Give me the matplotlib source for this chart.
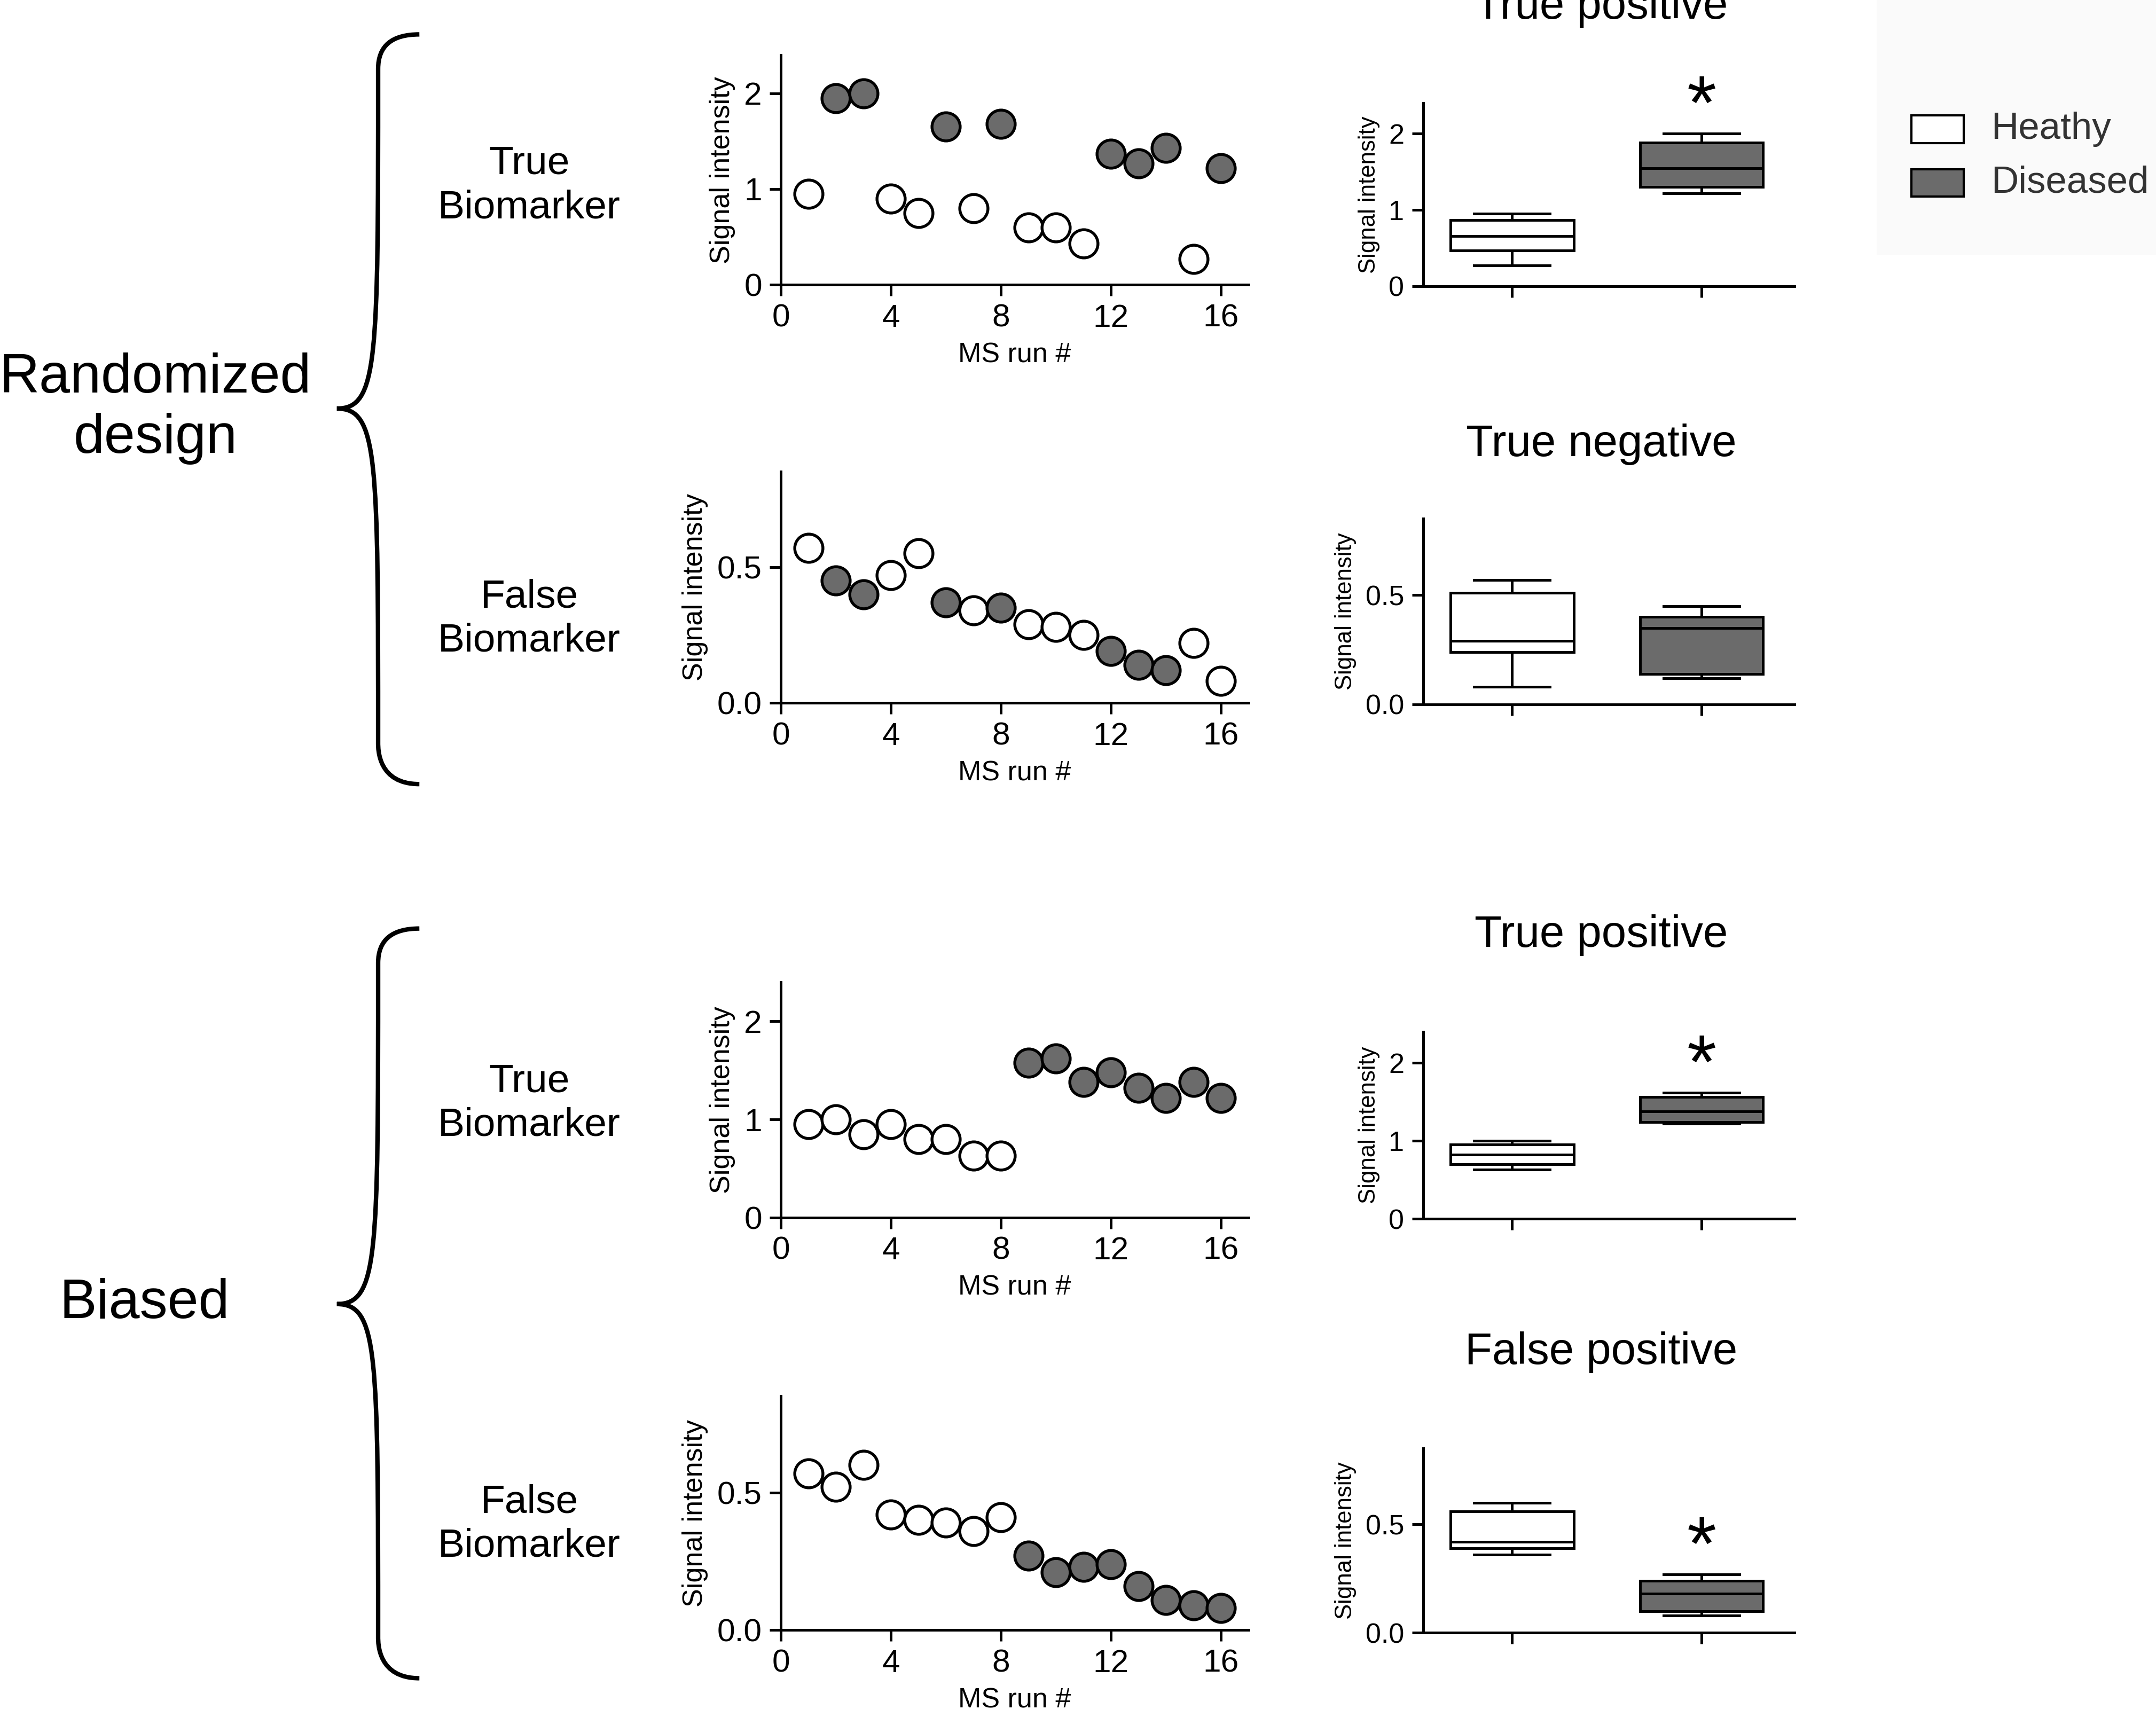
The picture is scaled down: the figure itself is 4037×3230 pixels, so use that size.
import numpy as np
import matplotlib; matplotlib.use('Agg'); import matplotlib.pyplot as plt
from matplotlib.path import Path
from matplotlib.patches import PathPatch, Rectangle

plt.rcParams['font.family'] = ['Liberation Sans', 'DejaVu Sans']
W, H = 1568., 1254.
GR = '#6b6b6b'

# scatter data: (healthy runs, healthy vals, diseased runs, diseased vals)
s1_hx = [1, 4, 5, 7, 9, 10, 11, 15]; s1_hy = [0.95, 0.9, 0.75, 0.8, 0.6, 0.6, 0.43, 0.27]
s1_dx = [2, 3, 6, 8, 12, 13, 14, 16]; s1_dy = [1.95, 2.0, 1.65, 1.68, 1.37, 1.27, 1.43, 1.22]
s2_hx = [1, 4, 5, 7, 9, 10, 11, 15, 16]; s2_hy = [0.57, 0.47, 0.55, 0.34, 0.29, 0.28, 0.25, 0.22, 0.08]
s2_dx = [2, 3, 6, 8, 12, 13, 14]; s2_dy = [0.45, 0.40, 0.37, 0.35, 0.19, 0.14, 0.12]
s3_hx = [1, 2, 3, 4, 5, 6, 7, 8]; s3_hy = [0.95, 1.0, 0.85, 0.95, 0.8, 0.8, 0.63, 0.63]
s3_dx = [9, 10, 11, 12, 13, 14, 15, 16]; s3_dy = [1.58, 1.62, 1.38, 1.48, 1.32, 1.22, 1.38, 1.22]
s4_hx = [1, 2, 3, 4, 5, 6, 7, 8]; s4_hy = [0.57, 0.52, 0.6, 0.42, 0.4, 0.39, 0.36, 0.41]
s4_dx = [9, 10, 11, 12, 13, 14, 15, 16]; s4_dy = [0.27, 0.21, 0.23, 0.24, 0.16, 0.11, 0.09, 0.08]

# box stats: whislo, q1, med, q3, whishi
b1 = [[0.27, 0.47, 0.66, 0.87, 0.95], [1.22, 1.30, 1.55, 1.88, 2.0]]
b2 = [[0.08, 0.24, 0.29, 0.51, 0.57], [0.12, 0.14, 0.35, 0.40, 0.45]]
b3 = [[0.63, 0.70, 0.82, 0.95, 1.0], [1.22, 1.24, 1.38, 1.56, 1.62]]
b4 = [[0.36, 0.39, 0.42, 0.56, 0.60], [0.08, 0.10, 0.18, 0.24, 0.27]]
box_titles = ['True positive', 'True negative', 'True positive', 'False positive']
box_star = [True, False, True, True]

fig = plt.figure(figsize=(4037/300, 3230/300), dpi=300)
def ax_at(x0, y0, x1, y1): return fig.add_axes([x0/W, 1-y1/H, (x1-x0)/W, (y1-y0)/H])
def style(ax, ls=14.5):
    for s in ['top', 'right']: ax.spines[s].set_visible(False)
    for s in ['left', 'bottom']: ax.spines[s].set_linewidth(1.2)
    ax.tick_params(width=1.2, length=5, labelsize=ls)

big = [(0, 2.4, [0, 1, 2], ['0', '1', '2']), (0, 0.85, [0, 0.5], ['0.0', '0.5'])]
scat = [(40, 207, s1_hx, s1_hy, s1_dx, s1_dy, 0), (343, 511, s2_hx, s2_hy, s2_dx, s2_dy, 1),
        (714, 885, s3_hx, s3_hy, s3_dx, s3_dy, 0), (1015, 1185, s4_hx, s4_hy, s4_dx, s4_dy, 1)]
for y0, y1, hx, hy, dx, dy, k in scat:
    ax = ax_at(568, y0, 908, y1); style(ax)
    ax.scatter(hx, hy, s=160, facecolor='white', edgecolor='black', lw=1.3, zorder=3, clip_on=False)
    ax.scatter(dx, dy, s=160, facecolor=GR, edgecolor='black', lw=1.3, zorder=3, clip_on=False)
    lo, hi, tk, tl = big[k]
    ax.set_ylim(lo, hi); ax.set_yticks(tk, tl); ax.set_xlim(0, 17); ax.set_xticks([0, 4, 8, 12, 16])
    ax.set_xlabel('MS run #', fontsize=12.5); ax.set_ylabel('Signal intensity', fontsize=12.5)

boxes = [(75, 208, b1, 0), (377, 512, b2, 1), (750, 886, b3, 0), (1053, 1187, b4, 1)]
for i, (y0, y1, b, k) in enumerate(boxes):
    ax = ax_at(1035, y0, 1305, y1); style(ax, 12.5)
    stats = [dict(whislo=v[0], q1=v[1], med=v[2], q3=v[3], whishi=v[4], fliers=[]) for v in b]
    bp = ax.bxp(stats, positions=[1, 2], widths=0.65, patch_artist=True, showfliers=False,
                medianprops=dict(color='black', lw=1.2), whiskerprops=dict(lw=1.2), capprops=dict(lw=1.2),
                boxprops=dict(lw=1.2))
    bp['boxes'][0].set_facecolor('white'); bp['boxes'][1].set_facecolor(GR)
    for c in bp['caps']: c.set_xdata(np.mean(c.get_xdata()) + np.array([-0.2, 0.2]))
    lo, hi, tk, tl = big[k]
    ax.set_ylim(lo, hi); ax.set_yticks(tk, tl); ax.set_xlim(0.53, 2.49); ax.set_xticks([1, 2], ['', ''])
    ax.set_ylabel('Signal intensity', fontsize=10.5)
    ax.set_title(box_titles[i], fontsize=20, pad=38 if i != 1 else 28, x=0.48)
    if box_star[i]:
        ax.text(2, b[1][4] - (hi - lo) * 0.06, '*', ha='center', va='bottom', fontsize=34)

# row labels
for y in [135, 450, 802, 1108]:
    fig.text(385/W, 1-y/H, 'True\nBiomarker' if y in (135, 802) else 'False\nBiomarker',
             ha='center', va='center', fontsize=18, linespacing=1.25)
fig.text(113/W, 1-297/H, 'Randomized\ndesign', ha='center', va='center', fontsize=25, linespacing=1.2)
fig.text(105/W, 1-948/H, 'Biased', ha='center', va='center', fontsize=25)

# braces
def brace(ytop, ymid, ybot, xr=305, xv=275, xt=245):
    P = lambda x, y: (x/W, 1-y/H)
    verts = [P(xr, ytop), P(xv, ytop), P(xv, ytop+25), P(xv, ytop+30),
             P(xv, ymid-35), P(xv, ymid), P(xt, ymid),
             P(xv, ymid), P(xv, ymid+35), P(xv, ybot-30),
             P(xv, ybot-25), P(xv, ybot), P(xr, ybot)]
    codes = [Path.MOVETO, Path.CURVE3, Path.CURVE3, Path.LINETO,
             Path.CURVE4, Path.CURVE4, Path.CURVE4,
             Path.CURVE4, Path.CURVE4, Path.CURVE4,
             Path.CURVE4, Path.CURVE4, Path.CURVE4]
    fig.patches.append(PathPatch(Path(verts, codes), fill=False, lw=2, transform=fig.transFigure))
brace(25, 297, 570)
brace(675, 948, 1220)

# legend
fig.patches.append(Rectangle((1365/W, 1-185/H), 203/W, 185/H, facecolor='#fafafa', edgecolor='none', transform=fig.transFigure))
for y, fc, lab in [(84, 'white', 'Heathy'), (123, GR, 'Diseased')]:
    fig.patches.append(Rectangle((1390/W, 1-(y+20)/H), 38/W, 20/H, facecolor=fc, edgecolor='black', lw=1, transform=fig.transFigure))
    fig.text(1448/W, 1-(y+10)/H, lab, va='center', fontsize=17, color='#333')

fig.savefig('out.png', dpi=300)
